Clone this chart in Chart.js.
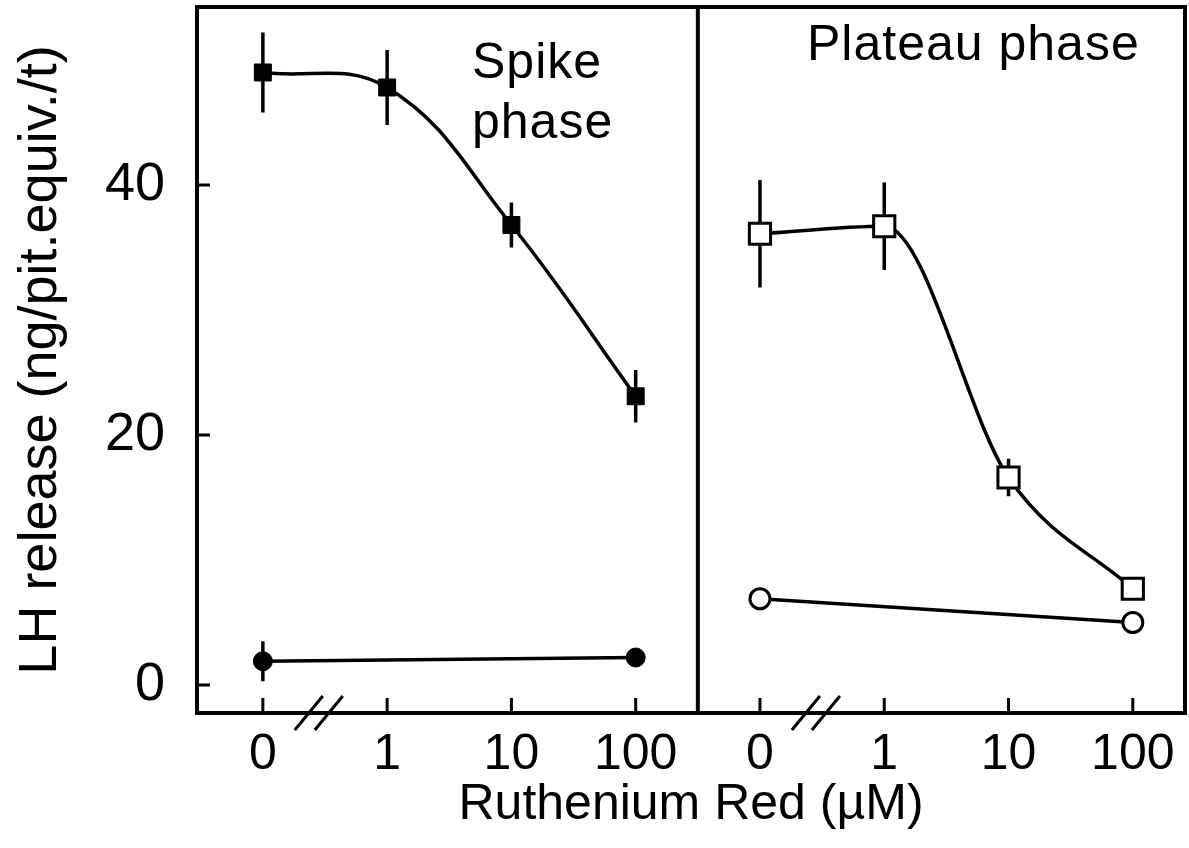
<!DOCTYPE html>
<html>
<head>
<meta charset="utf-8">
<script src="https://cdn.jsdelivr.net/npm/chart.js@4.4.1/dist/chart.umd.min.js"></script>
<style>
  html, body { margin: 0; padding: 0; background: #fff; }
  canvas { display: block; }
</style>
</head>
<body>
<canvas id="lh" width="1189" height="848"></canvas>
<script>
// Ruthenium Red concentrations (uM); 0 sits one decade left of 1 behind an axis break
const concentrations = [0, 1, 10, 100]
const tickLabels = ["0", "1", "10", "100"]
const controlConc = [0, 100]

// spike phase
const spikeRR = [49.0, 47.8, 36.8, 23.1]
const spikeRRErr = [3.2, 3.0, 1.8, 2.1]
const spikeControl = [1.9, 2.2]
const spikeControlErr = [1.6, 0]

// plateau phase
const plateauRR = [36.1, 36.7, 16.6, 7.7]
const plateauRRErr = [4.3, 3.5, 1.5, 0]
const plateauControl = [6.9, 5.0]
const plateauControlErr = [0, 0]

const PLATEAU_OFFSET = 4   // second panel starts 4 units to the right
const FONT = "'Liberation Sans', Arial, Helvetica, sans-serif"

// broken log axis: 0 -> 0, 1 -> 1, 10 -> 2, 100 -> 3
function xPos(c) {
  return c === 0 ? 0 : Math.log10(c) + 1
}

function points(conc, vals, offset) {
  return conc.map((c, i) => ({ x: xPos(c) + offset, y: vals[i] }))
}

// error bars, drawn under the markers
const errorBarPlugin = {
  id: "errorBars",
  beforeDatasetsDraw(chart) {
    const ctx = chart.ctx
    const y = chart.scales.y
    ctx.save()
    ctx.strokeStyle = "#000"
    ctx.lineWidth = 3.5
    chart.data.datasets.forEach((ds, i) => {
      if (!ds.errorBars) return
      const meta = chart.getDatasetMeta(i)
      meta.data.forEach((pt, j) => {
        const e = ds.errorBars[j]
        if (!e) return
        const v = ds.data[j].y
        ctx.beginPath()
        ctx.moveTo(pt.x, y.getPixelForValue(v + e))
        ctx.lineTo(pt.x, y.getPixelForValue(v - e))
        ctx.stroke()
      })
    })
    ctx.restore()
  }
}

// box around both panels, divider, inward ticks, axis breaks, panel titles
const framePlugin = {
  id: "frame",
  afterDraw(chart) {
    const ctx = chart.ctx
    const a = chart.chartArea
    const x = chart.scales.x
    const y = chart.scales.y
    ctx.save()
    ctx.strokeStyle = "#000"
    ctx.lineWidth = 4
    ctx.strokeRect(a.left, a.top, a.right - a.left, a.bottom - a.top)

    const divX = x.getPixelForValue(PLATEAU_OFFSET - 0.5)
    ctx.beginPath()
    ctx.moveTo(divX, a.top)
    ctx.lineTo(divX, a.bottom)
    ctx.stroke()

    ctx.lineWidth = 3
    ctx.beginPath()
    y.ticks.forEach(t => {
      const py = y.getPixelForValue(t.value)
      ctx.moveTo(a.left, py)
      ctx.lineTo(a.left + 13, py)
    })
    x.ticks.forEach(t => {
      const px = x.getPixelForValue(t.value)
      ctx.moveTo(px, a.bottom)
      ctx.lineTo(px, a.bottom - 15)
    })
    ctx.stroke()

    // the "//" break between 0 and 1 on each panel
    ctx.beginPath()
    ;[0, PLATEAU_OFFSET].forEach(off => {
      const cx = x.getPixelForValue(off + 0.45)
      ;[-10, 10].forEach(d => {
        ctx.moveTo(cx + d - 14, a.bottom + 17)
        ctx.lineTo(cx + d + 14, a.bottom - 17)
      })
    })
    ctx.stroke()

    ctx.fillStyle = "#000"
    ctx.font = "50px " + FONT
    ctx.letterSpacing = "1px"
    ctx.textAlign = "left"
    ctx.textBaseline = "alphabetic"
    ctx.fillText("Spike", a.left + 275, a.top + 71)
    ctx.fillText("phase", a.left + 275, a.top + 131)
    ctx.fillText("Plateau phase", a.left + 610, a.top + 53)
    ctx.restore()
  }
}

const ctx = document.getElementById("lh").getContext("2d")
const lhChart = new Chart(ctx, {
  type: "line",
  data: {
    datasets: [
      {
        label: "Spike, Ruthenium Red",
        data: points(concentrations, spikeRR, 0),
        errorBars: spikeRRErr,
        borderColor: "#000",
        borderWidth: 3.5,
        tension: 0.4,
        pointStyle: "rect",
        pointRadius: 12,
        pointBackgroundColor: "#000",
        pointBorderColor: "#000",
        pointBorderWidth: 1
      },
      {
        label: "Spike, control",
        data: points(controlConc, spikeControl, 0),
        errorBars: spikeControlErr,
        borderColor: "#000",
        borderWidth: 3.5,
        pointStyle: "circle",
        pointRadius: 9.5,
        pointBackgroundColor: "#000",
        pointBorderColor: "#000",
        pointBorderWidth: 1
      },
      {
        label: "Plateau, Ruthenium Red",
        data: points(concentrations, plateauRR, PLATEAU_OFFSET),
        errorBars: plateauRRErr,
        borderColor: "#000",
        borderWidth: 3.5,
        cubicInterpolationMode: "monotone",
        pointStyle: "rect",
        pointRadius: 15,
        pointBackgroundColor: "#fff",
        pointBorderColor: "#000",
        pointBorderWidth: 3
      },
      {
        label: "Plateau, control",
        data: points(controlConc, plateauControl, PLATEAU_OFFSET),
        errorBars: plateauControlErr,
        borderColor: "#000",
        borderWidth: 3.5,
        pointStyle: "circle",
        pointRadius: 10,
        pointBackgroundColor: "#fff",
        pointBorderColor: "#000",
        pointBorderWidth: 3
      }
    ]
  },
  options: {
    responsive: false,
    animation: false,
    layout: {
      autoPadding: false,
      padding: { top: 7, right: 4, bottom: 0, left: 0 }
    },
    plugins: {
      legend: { display: false },
      tooltip: { enabled: false }
    },
    scales: {
      x: {
        type: "linear",
        min: -0.53,
        max: 7.42,
        afterBuildTicks: axis => {
          axis.ticks = [0, 1, 2, 3].flatMap(v => [v, v + PLATEAU_OFFSET])
            .sort((p, q) => p - q)
            .map(v => ({ value: v }))
        },
        afterFit: axis => {
          axis.height = 135
          axis.paddingLeft = 0
          axis.paddingRight = 0
        },
        grid: { display: false, drawTicks: false },
        border: { display: false },
        ticks: {
          autoSkip: false,
          maxRotation: 0,
          padding: 12,
          color: "#000",
          font: { family: FONT, size: 50 },
          callback: v => tickLabels[v % PLATEAU_OFFSET]
        },
        title: {
          display: true,
          text: "Ruthenium Red (µM)",
          color: "#000",
          font: { family: FONT, size: 50 },
          padding: { top: 0, bottom: 13 }
        }
      },
      y: {
        min: -2.24,
        max: 54.24,
        afterBuildTicks: axis => {
          axis.ticks = [0, 20, 40].map(v => ({ value: v }))
        },
        afterFit: axis => {
          axis.width = 197
          axis.paddingTop = 0
          axis.paddingBottom = 0
        },
        grid: { display: false, drawTicks: false },
        border: { display: false },
        ticks: {
          padding: 32,
          color: "#000",
          font: { family: FONT, size: 54 }
        },
        title: {
          display: true,
          text: "LH release (ng/pit.equiv./t)",
          color: "#000",
          font: { family: FONT, size: 54 },
          padding: { top: 9, bottom: 0 }
        }
      }
    }
  },
  plugins: [errorBarPlugin, framePlugin]
})
</script>
</body>
</html>
